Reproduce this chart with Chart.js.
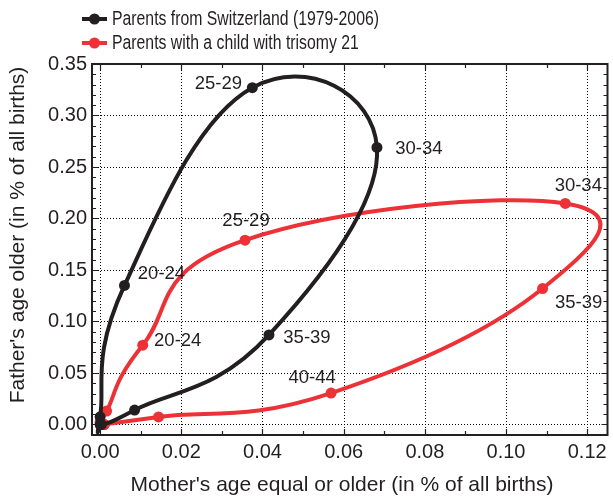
<!DOCTYPE html>
<html><head><meta charset="utf-8">
<script src="https://cdn.jsdelivr.net/npm/chart.js@4"></script>
<style>html,body{margin:0;padding:0;background:#fff}#wrap{width:613px;height:499px}</style>
</head><body><div id="wrap"><canvas id="c" width="613" height="499"></canvas></div>
<script>
// ---- data ----
const seriesNames = ['Parents from Switzerland (1979-2006)', 'Parents with a child with trisomy 21'];
const swissX = [0.0000, 0.0000, 0.0060, 0.0375, 0.0682, 0.0416, 0.0085, 0.0003];
const swissY = [0.0000, 0.0075, 0.1350, 0.3270, 0.2690, 0.0870, 0.0140, 0.0000];
const swissLabels = ['', '', '20-24', '25-29', '30-34', '35-39', '', ''];
const t21X = [0.0010, 0.0000, 0.0016, 0.0105, 0.0357, 0.1146, 0.1090, 0.0569, 0.0144, 0.0010];
const t21Y = [0.0000, 0.0025, 0.0130, 0.0770, 0.1790, 0.2146, 0.1320, 0.0305, 0.0073, 0.0000];
const t21Labels = ['', '', '', '20-24', '25-29', '30-34', '35-39', '40-44', '', ''];
const xTickValues = [0, 0.02, 0.04, 0.06, 0.08, 0.10, 0.12];
const xTickLabels = ['0.00', '0.02', '0.04', '0.06', '0.08', '0.10', '0.12'];
const yTickValues = [0, 0.05, 0.10, 0.15, 0.20, 0.25, 0.30, 0.35];
const yTickLabels = ['0.00', '0.05', '0.10', '0.15', '0.20', '0.25', '0.30', '0.35'];
const xTitle = "Mother's age equal or older (in % of all births)";
const yTitle = "Father's age older (in % of all births)";
const xMin = -0.002, xMax = 0.125, yMin = -0.0102, yMax = 0.35;
const minorStep = 0.01;

// ---- style ----
const BLACK = '#231f20', RED = '#ec3237', TEXT = '#231f20';
const FONT = '"Liberation Sans", Arial, Helvetica, sans-serif';
const SPLINE_K = 0.22; // uniform Catmull-Rom handle factor
const labelOffsets = [
  {'20-24': [37, -12], '25-29': [-34, -4], '30-34': [42, 1], '35-39': [38, 3]},
  {'20-24': [35, -4], '25-29': [1, -19], '30-34': [13, -18], '35-39': [36, 14], '40-44': [-19, -15]}
];
const seriesLabels = [swissLabels, t21Labels];

const splinePlugin = {
  id: 'uniformSpline',
  beforeDatasetDraw(chart, args) {
    const meta = args.meta;
    const line = meta.dataset;
    if (!line) return;
    if (typeof line.updateControlPoints === 'function') {
      line.updateControlPoints(chart.chartArea, meta.iScale ? meta.iScale.axis : 'x');
    }
    const pts = meta.data, n = pts.length;
    for (let i = 0; i < n; i++) {
      const p = pts[i], a = pts[Math.max(i - 1, 0)], b = pts[Math.min(i + 1, n - 1)];
      const dx = b.x - a.x, dy = b.y - a.y;
      p.cp1x = p.x - SPLINE_K * dx; p.cp1y = p.y - SPLINE_K * dy;
      p.cp2x = p.x + SPLINE_K * dx; p.cp2y = p.y + SPLINE_K * dy;
    }
    line._path = undefined;
  }
};

const framePlugin = {
  id: 'frame',
  beforeDatasetsDraw(chart) {
    const {ctx, chartArea: a, scales: {x, y}} = chart;
    ctx.save();
    ctx.strokeStyle = '#000';
    ctx.lineWidth = 1;
    ctx.setLineDash([1, 2]);
    xTickValues.forEach(v => {
      const px = Math.round(x.getPixelForValue(v)) + 0.5;
      ctx.beginPath(); ctx.moveTo(px, a.top); ctx.lineTo(px, a.bottom); ctx.stroke();
    });
    yTickValues.forEach(v => {
      const py = Math.round(y.getPixelForValue(v)) + 0.5;
      ctx.beginPath(); ctx.moveTo(a.left, py); ctx.lineTo(a.right, py); ctx.stroke();
    });
    ctx.setLineDash([]);
    ctx.strokeStyle = BLACK;
    ctx.lineWidth = 1.2;
    for (let k = 0; k * minorStep <= xMax + 1e-9; k++) {
      const v = k * minorStep;
      const major = xTickValues.some(t => Math.abs(t - v) < 1e-9);
      const len = major ? 6 : 4;
      const px = Math.round(x.getPixelForValue(v)) + 0.5;
      ctx.beginPath();
      ctx.moveTo(px, a.bottom); ctx.lineTo(px, a.bottom - len);
      ctx.moveTo(px, a.top); ctx.lineTo(px, a.top + len);
      ctx.stroke();
    }
    for (let k = 0; k * minorStep <= yMax + 1e-9; k++) {
      const v = k * minorStep;
      const major = yTickValues.some(t => Math.abs(t - v) < 1e-9);
      const len = major ? 6 : 4;
      const py = Math.round(y.getPixelForValue(v)) + 0.5;
      ctx.beginPath();
      ctx.moveTo(a.left, py); ctx.lineTo(a.left + len, py);
      ctx.moveTo(a.right, py); ctx.lineTo(a.right - len, py);
      ctx.stroke();
    }
    ctx.lineWidth = 2;
    ctx.strokeRect(a.left, a.top, a.right - a.left, a.bottom - a.top);
    ctx.restore();
  },
  afterDatasetsDraw(chart) {
    const {ctx, scales: {x, y}} = chart;
    ctx.save();
    ctx.fillStyle = TEXT;
    ctx.font = '18.5px ' + FONT;
    ctx.textAlign = 'center';
    ctx.textBaseline = 'middle';
    chart.data.datasets.forEach((ds, di) => {
      ds.data.forEach((p, i) => {
        const t = seriesLabels[di][i];
        if (!t) return;
        const off = labelOffsets[di][t] || [0, 0];
        ctx.fillText(t, x.getPixelForValue(p.x) + off[0], y.getPixelForValue(p.y) + off[1]);
      });
    });
    ctx.restore();
  },
  afterDraw(chart) {
    const {ctx} = chart;
    ctx.save();
    const colors = [BLACK, RED];
    const rowsY = [19, 43];
    seriesNames.forEach((name, i) => {
      const yy = rowsY[i];
      ctx.strokeStyle = colors[i]; ctx.lineWidth = 4;
      ctx.beginPath(); ctx.moveTo(82, yy); ctx.lineTo(107, yy); ctx.stroke();
      ctx.fillStyle = colors[i];
      ctx.beginPath(); ctx.arc(94.5, yy, 5.5, 0, Math.PI * 2); ctx.fill();
      ctx.save();
      ctx.fillStyle = TEXT;
      ctx.font = '20px ' + FONT;
      ctx.textAlign = 'left'; ctx.textBaseline = 'middle';
      ctx.translate(112, yy);
      ctx.scale(0.79, 1);
      ctx.fillText(name, 0, 0);
      ctx.restore();
    });
    ctx.fillStyle = TEXT;
    ctx.font = '21px ' + FONT;
    ctx.textAlign = 'center'; ctx.textBaseline = 'middle';
    ctx.fillText(xTitle, 342, 485);
    ctx.translate(18, 235);
    ctx.rotate(-Math.PI / 2);
    ctx.fillText(yTitle, 0, 0);
    ctx.restore();
  }
};

const ds = (name, xs, ys, color) => ({
  label: name,
  data: xs.map((v, i) => ({x: v, y: ys[i]})),
  showLine: true,
  borderColor: color,
  backgroundColor: color,
  pointBackgroundColor: color,
  pointBorderColor: color,
  pointBorderWidth: 0,
  pointRadius: 5.5,
  borderWidth: 4,
  tension: 0.4,
  clip: false
});

new Chart(document.getElementById('c'), {
  type: 'scatter',
  data: {datasets: [ds(seriesNames[0], swissX, swissY, BLACK), ds(seriesNames[1], t21X, t21Y, RED)]},
  options: {
    responsive: false,
    animation: false,
    devicePixelRatio: 1,
    layout: {padding: {top: 64, right: 4, left: 0, bottom: 0}},
    plugins: {legend: {display: false}, tooltip: {enabled: false}},
    scales: {
      x: {
        type: 'linear', min: xMin, max: xMax,
        afterBuildTicks: s => { s.ticks = xTickValues.map(v => ({value: v})); },
        afterFit: s => { s.height = 64; },
        ticks: {callback: (v, i) => xTickLabels[i], font: {family: FONT, size: 20}, color: TEXT, padding: 5, autoSkip: false, maxRotation: 0},
        grid: {display: false, drawTicks: false},
        border: {display: false}
      },
      y: {
        type: 'linear', min: yMin, max: yMax,
        afterBuildTicks: s => { s.ticks = yTickValues.map(v => ({value: v})); },
        afterFit: s => { s.width = 92; },
        ticks: {callback: (v, i) => yTickLabels[i], font: {family: FONT, size: 20}, color: TEXT, padding: 5, autoSkip: false},
        grid: {display: false, drawTicks: false},
        border: {display: false}
      }
    }
  },
  plugins: [splinePlugin, framePlugin]
});
</script>
</body></html>
